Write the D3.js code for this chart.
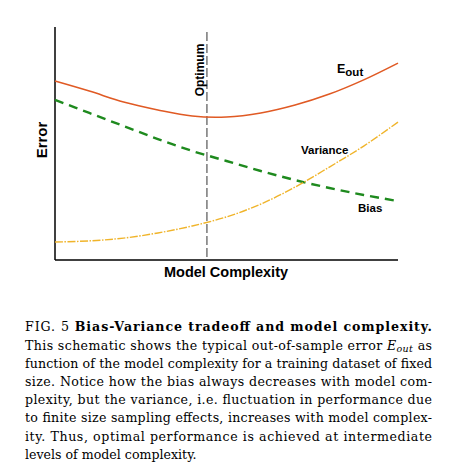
<!DOCTYPE html>
<html lang="en">
<head>
	<script src="https://d3js.org/d3.v7.min.js"></script>
	<style>
	body { margin: 0; background: #fff; }
	.lab { font-family: "Liberation Sans", Arial, sans-serif; font-weight: bold; }
	.cap { font-family: "DejaVu Serif", "Liberation Serif", serif; font-size: 12.6px; }
	</style>
</head>
<body>
<script>
// Model complexity (arbitrary units) and curve values
var complexity = [0, 1, 2, 3, 4, 5, 6, 7, 8, 9, 10];
var eout = [7.68, 7.25, 6.78, 6.44, 6.18, 6.14, 6.31, 6.65, 7.12, 7.73, 8.45];
var bias = [6.87, 6.31, 5.75, 5.19, 4.68, 4.25, 3.82, 3.43, 3.09, 2.79, 2.53];
var variance = [0.77, 0.82, 0.94, 1.16, 1.46, 1.85, 2.40, 3.13, 3.99, 4.89, 5.92];
var optimum = 4.43;

var captionLines = [
	"This schematic shows the typical out-of-sample error ",
	"function of the model complexity for a training dataset of fixed",
	"size.  Notice how the bias always decreases with model com-",
	"plexity, but the variance, i.e. fluctuation in performance due",
	"to finite size sampling effects, increases with model complex-",
	"ity.  Thus, optimal performance is achieved at intermediate",
	"levels of model complexity."
];

var w = 472, h = 470;
var svg = d3.select("body").append("svg").attr("width", w).attr("height", h);

var x = d3.scaleLinear().domain([0, 10]).range([55, 398]);
var y = d3.scaleLinear().domain([0, 10]).range([260, 27]);

// axes (left and bottom only)
svg.append("line").attr("x1", x(0)).attr("y1", y(10)).attr("x2", x(0)).attr("y2", y(0))
	.attr("stroke", "black").attr("stroke-width", 1.5);
svg.append("line").attr("x1", x(0)).attr("y1", y(0)).attr("x2", x(10)).attr("y2", y(0))
	.attr("stroke", "black").attr("stroke-width", 1.5);

// optimum line
svg.append("line").attr("x1", x(optimum)).attr("y1", y(10) + 5).attr("x2", x(optimum)).attr("y2", y(0))
	.attr("stroke", "#333").attr("stroke-width", 1).attr("stroke-dasharray", "9,3");

function curve(vals, color, width, dash) {
	var line = d3.line()
		.x(function(d, i) { return x(complexity[i]); })
		.y(function(d) { return y(d); })
		.curve(d3.curveCatmullRom);
	svg.append("path").attr("d", line(vals)).attr("fill", "none")
		.attr("stroke", color).attr("stroke-width", width)
		.attr("stroke-dasharray", dash);
}
curve(eout, "#e05a24", 1.6, null);
curve(bias, "#1e8a1e", 2.4, "9,6");
curve(variance, "#f0b42a", 1.4, "8,1.5,1.5,1.5");

// labels
var eo = svg.append("text").attr("class", "lab").attr("x", 337).attr("y", 73).attr("font-size", 12.5).text("E");
eo.append("tspan").attr("dy", 3).attr("font-size", 11.5).text("out");
svg.append("text").attr("class", "lab").attr("x", 301).attr("y", 154).attr("font-size", 11.5).text("Variance");
svg.append("text").attr("class", "lab").attr("x", 358).attr("y", 212).attr("font-size", 11.5).text("Bias");
svg.append("text").attr("class", "lab").attr("font-size", 12).attr("text-anchor", "middle")
	.attr("transform", "translate(204,70) rotate(-90)").text("Optimum");
svg.append("text").attr("class", "lab").attr("font-size", 15).attr("text-anchor", "middle")
	.attr("transform", "translate(47,140) rotate(-90)").text("Error");
svg.append("text").attr("class", "lab").attr("font-size", 14.5).attr("text-anchor", "middle")
	.attr("x", 226).attr("y", 277).text("Model Complexity");

// caption
var t0 = svg.append("text").attr("class", "cap").attr("x", 25).attr("y", 331)
	.attr("textLength", 407).attr("lengthAdjust", "spacing");
t0.append("tspan").text("FIG. 5  ");
t0.append("tspan").attr("font-weight", "bold").text("Bias-Variance tradeoff and model complexity.");

captionLines.forEach(function(s, i) {
	var t = svg.append("text").attr("class", "cap").attr("x", 25).attr("y", 349.5 + i * 18.2);
	if (i === 0) {
		t.attr("textLength", 407).attr("lengthAdjust", "spacing");
		t.append("tspan").text(s);
		t.append("tspan").attr("font-style", "italic").text("E");
		t.append("tspan").attr("font-style", "italic").attr("font-size", 9.5).attr("dy", 2).text("out");
		t.append("tspan").attr("dy", -2).text(" as");
	} else {
		if (i < captionLines.length - 1) t.attr("textLength", 407).attr("lengthAdjust", "spacing");
		t.text(s);
	}
});
</script>
</body>
</html>
